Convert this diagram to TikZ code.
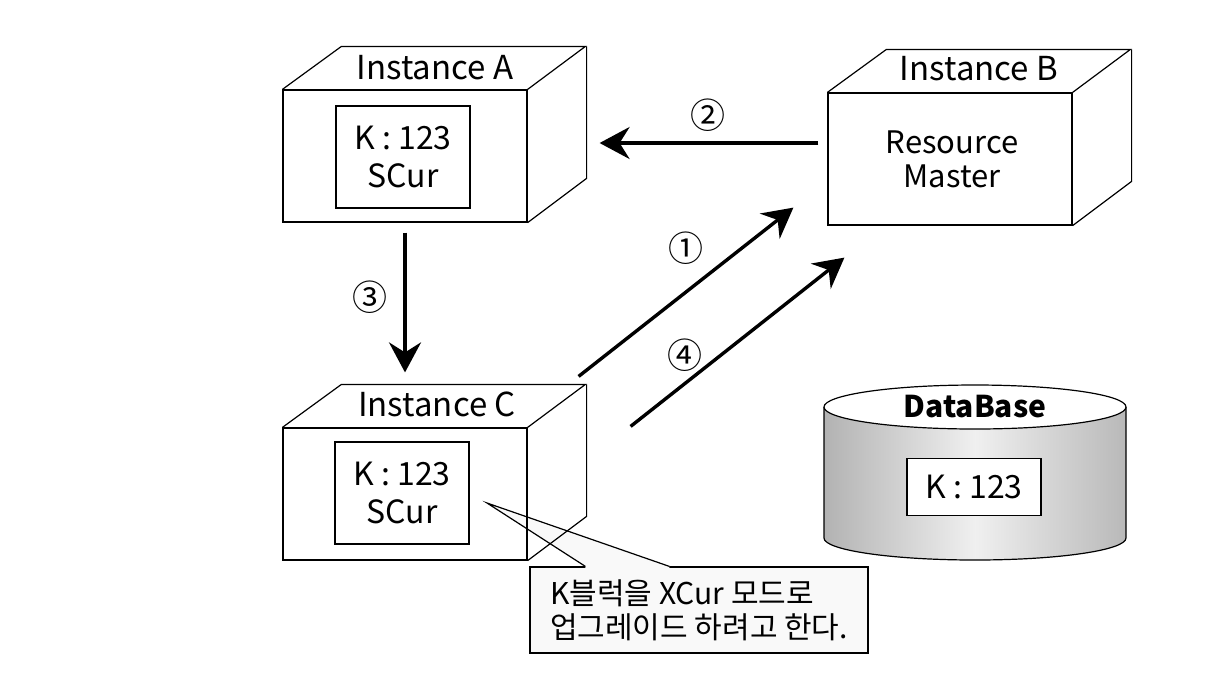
\documentclass[tikz,border=0pt]{standalone}
\usepackage{fontspec}
\setmainfont{Noto Sans CJK KR}
\usetikzlibrary{arrows.meta}

\tikzset{
  face/.style={draw, line width=0.6pt, minimum width=122pt, minimum height=66pt, inner sep=0pt},
  cell/.style={draw, line width=0.6pt, minimum width=67pt, minimum height=51pt, inner sep=0pt, align=center, font=\fontsize{16}{19}\selectfont},
  title/.style={inner sep=0pt, font=\fontsize{16.5}{18}\selectfont},
  flow/.style={line width=1.7pt, -{Stealth[length=15pt,width=16pt,inset=5pt]}},
  num/.style={inner sep=0pt, font=\fontsize{17.5}{18}\selectfont},
  notebox/.style={draw, line width=0.6pt, fill=gray!5, minimum width=169pt, minimum height=43pt, inner sep=1pt, align=left, font=\fontsize{15}{17}\selectfont}
}

% top and right faces of a box drawn on its front node
\newcommand{\cubeside}[1]{%
  \draw[line width=0.6pt] (#1.north west) -- ++(59,-43) -- ++(244,0) -- (#1.north east);
  \draw[line width=0.6pt] (#1.north east) ++(59,-43) -- ++(0,132) -- (#1.south east);
}

\begin{document}
\begin{tikzpicture}[x=0.5pt,y=-0.5pt]
\useasboundingbox (0,0) rectangle (1210,676);

% callout (under instance C)
\node[notebox] (note) at (699,610) {K블럭을 XCur 모드로\\업그레이드 하려고 한다.};
\coordinate (notetip) at (487,503);
\fill[gray!5] ([shift={(56,0)}]note.north west) -- (notetip) -- ([shift={(140,0)}]note.north west)
   -- ([shift={(140,1.5)}]note.north west) -- ([shift={(56,1.5)}]note.north west) -- cycle;
\draw[line width=0.6pt] ([shift={(56,0)}]note.north west) -- (notetip) -- ([shift={(140,0)}]note.north west);

% instance A
\node[face] (instA) at (405,156) {};
\cubeside{instA}
\node[title] (titleA) at (435,68) {Instance A};
\node[cell] (cellA) at (403,157) {K : 123\\SCur};

% instance B
\node[face] (instB) at (950,159) {};
\cubeside{instB}
\node[title] (titleB) at (979,69) {Instance B};
\node[align=center, font=\fontsize{15.5}{17}\selectfont] (master) at (952,159) {Resource\\Master};

% instance C
\node[face] (instC) at (405,494) {};
\cubeside{instC}
\node[title] (titleC) at (437,404) {Instance C};
\node[cell] (cellC) at (402,493) {K : 123\\SCur};

% database
\shade[left color=gray!60, right color=gray!55, middle color=gray!12] (824,407) -- (824,538)
   arc[start angle=180, end angle=0, x radius=151, y radius=22] -- (1126,407) -- cycle;
\draw[line width=0.6pt] (824,407) -- (824,538) arc[start angle=180, end angle=0, x radius=151, y radius=22] -- (1126,407);
\filldraw[fill=white, line width=0.6pt] (975,407) ellipse [x radius=151, y radius=22];
\node[inner sep=0pt, font=\bfseries\fontsize{15}{17}\selectfont] (dbname) at (975,407) {DataBase};
\node[cell, fill=white, minimum height=28.5pt] (cellDB) at (974,487) {K : 123};

% messages
\draw[flow] ([shift={(-9,-16)}]instB.west) -- ([shift={(72,-13)}]instA.east);
\node[num] (n2) at (708,115) {②};
\draw[flow] ([shift={(51,-51)}]instC.north east) -- ([shift={(-34,-18)}]instB.south west);
\node[num] (n1) at (686,248) {①};
\draw[flow] ([shift={(103,-1)}]instC.north east) -- ([shift={(17,32)}]instB.south west);
\node[num] (n4) at (685,355) {④};
\draw[flow] ([shift={(0,10)}]instA.south) -- ([shift={(0,-55)}]instC.north);
\node[num] (n3) at (370,297) {③};

\end{tikzpicture}
\end{document}
